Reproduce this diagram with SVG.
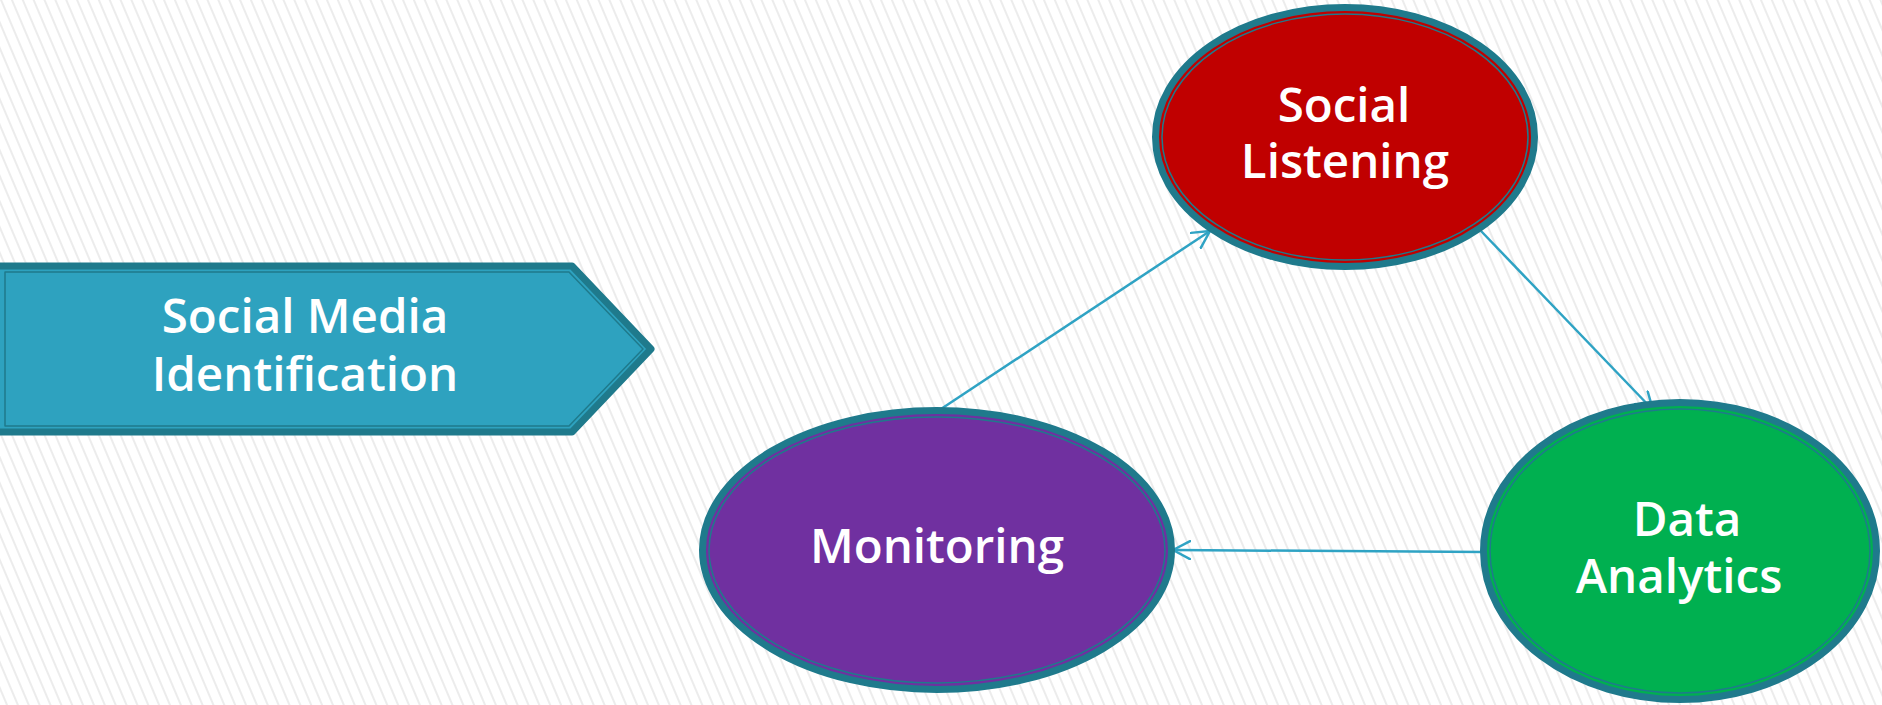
<svg xmlns="http://www.w3.org/2000/svg" width="1882" height="705" viewBox="0 0 1882 705">
  <defs>
    <pattern id="stripes" patternUnits="userSpaceOnUse" width="10" height="10" patternTransform="rotate(-23)">
      <rect width="10" height="10" fill="#ffffff"/>
      <rect x="0" y="0" width="2" height="10" fill="#ececec"/>
    </pattern>
    <marker id="arrow" viewBox="0 0 20 20" refX="18" refY="10" markerWidth="20" markerHeight="20" markerUnits="userSpaceOnUse" orient="auto">
      <path d="M1,1 L18,10 L1,19" fill="none" stroke="#2fa3c4" stroke-width="2.5" stroke-linecap="round" stroke-linejoin="round"/>
    </marker>
    <style>
      .band { stroke: #1f7a8c; stroke-width: 7; }
      .inner { fill: none; stroke: #1f7a8c; stroke-width: 1.5; }
      .label { font-family: "Open Sans", "Noto Sans", "DejaVu Sans", sans-serif; font-size: 47.5px; font-weight: 600; fill: #ffffff; text-anchor: middle; }
      .conn { fill: none; stroke: #2fa3c4; stroke-width: 2.5; }
    </style>
  </defs>

  <rect x="0" y="0" width="1882" height="705" fill="url(#stripes)"/>

  <g id="connectors">
    <line class="conn" x1="938" y1="411" x2="1210" y2="231" marker-end="url(#arrow)"/>
    <line class="conn" x1="1481" y1="231" x2="1653" y2="410" marker-end="url(#arrow)"/>
    <line class="conn" x1="1484" y1="552" x2="1173" y2="550" marker-end="url(#arrow)"/>
  </g>

  <g id="node-identification">
    <path class="band" d="M-4,266 L572,266 L651,349 L572,432 L-4,432 Z" fill="#2ea2bf" stroke-linejoin="round"/>
    <path class="inner" d="M5,272 L569,272 L643,349 L569,426 L5,426 Z" stroke-linejoin="round"/>
    <text class="label" x="305" y="333">Social Media</text>
    <text class="label" x="305" y="391">Identification</text>
  </g>

  <g id="node-listening">
    <ellipse class="band" cx="1345" cy="137" rx="189.5" ry="129.5" fill="#c00000"/>
    <ellipse class="inner" cx="1345" cy="137" rx="183" ry="123"/>
    <text class="label" x="1344" y="122">Social</text>
    <text class="label" x="1345" y="178">Listening</text>
  </g>

  <g id="node-monitoring">
    <ellipse class="band" cx="937" cy="550" rx="234.5" ry="139.5" fill="#7030a0"/>
    <ellipse class="inner" cx="937" cy="550" rx="228" ry="133"/>
    <text class="label" x="937" y="563">Monitoring</text>
  </g>

  <g id="node-analytics">
    <ellipse class="band" cx="1680" cy="551" rx="196.5" ry="148.5" fill="#00b050"/>
    <ellipse class="inner" cx="1680" cy="551" rx="190" ry="142"/>
    <text class="label" x="1687" y="536">Data</text>
    <text class="label" x="1679" y="593">Analytics</text>
  </g>
</svg>
